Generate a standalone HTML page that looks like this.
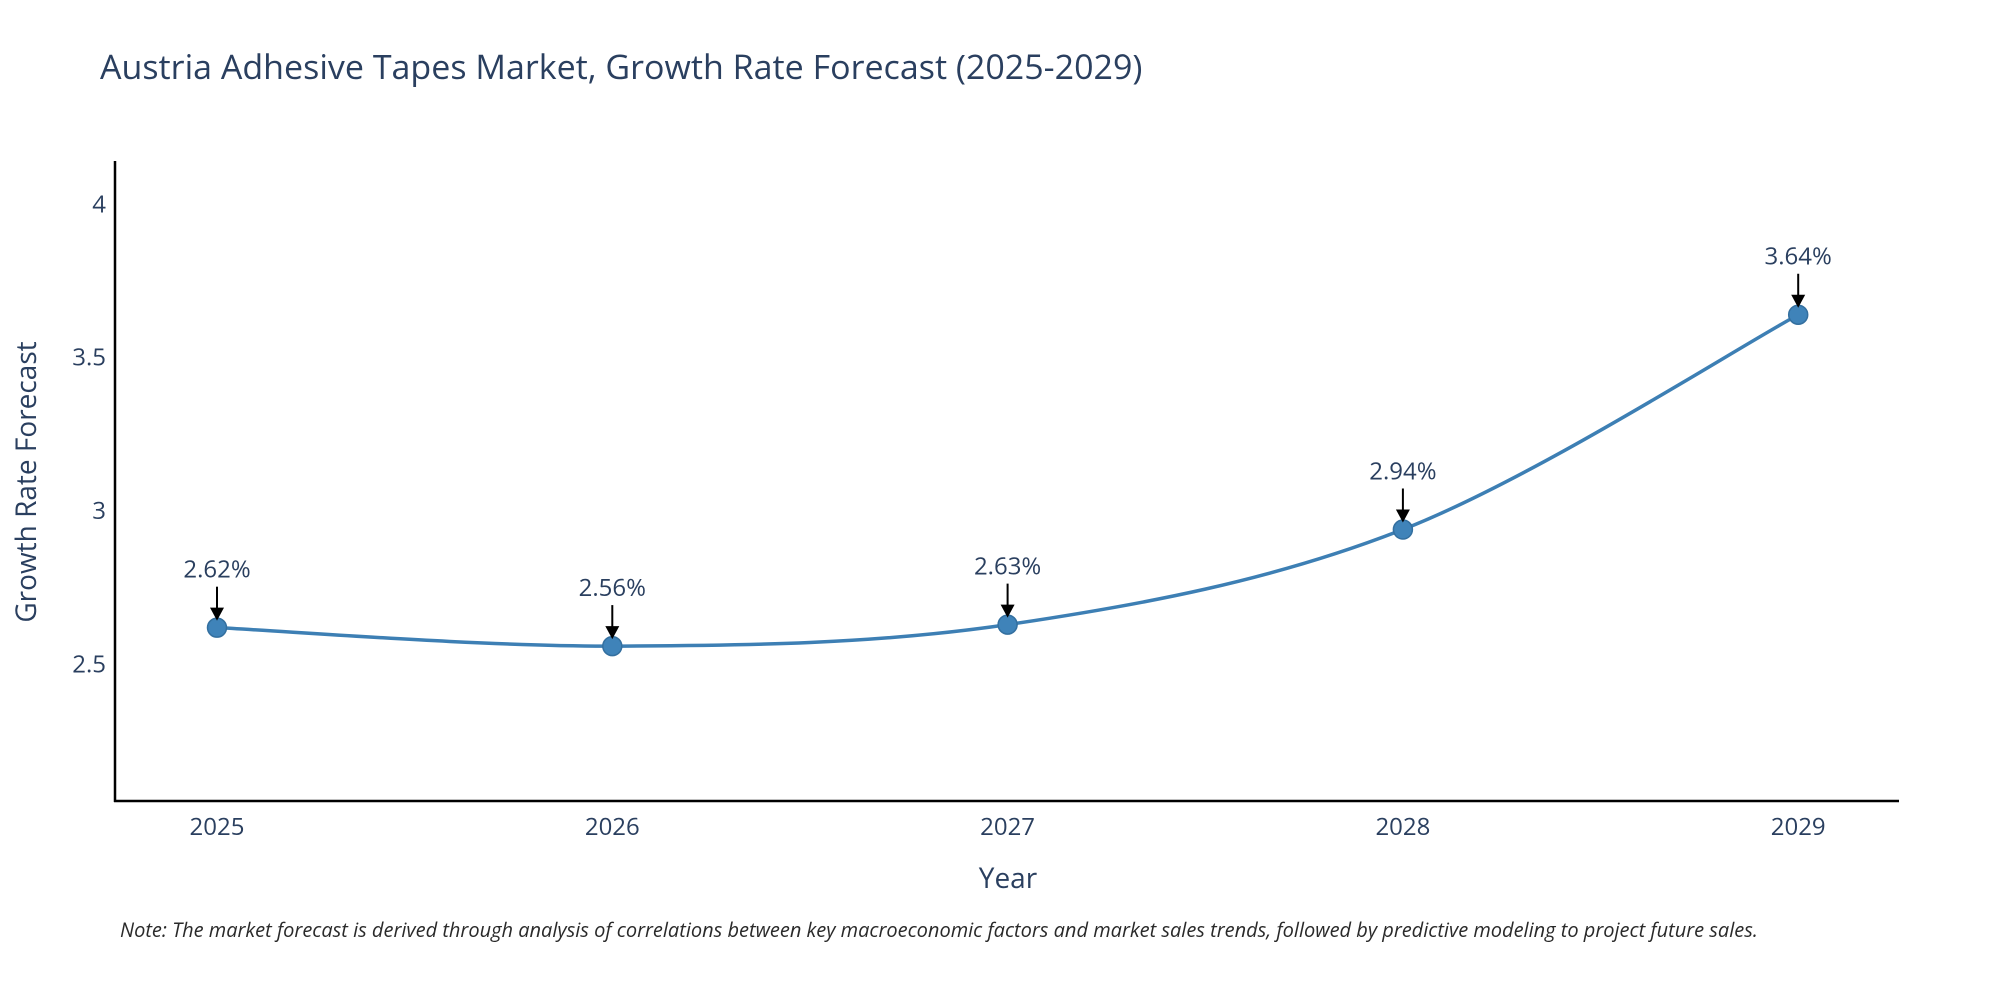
<!DOCTYPE html>
<html><head><meta charset="utf-8"><style>
body{margin:0;background:#fff;}
svg text{font-family:"Open Sans","Liberation Sans",sans-serif;}
</style></head><body>
<svg id="chart" width="2000" height="1000" viewBox="0 0 2000 1000" xmlns="http://www.w3.org/2000/svg">
<rect width="2000" height="1000" fill="#fff"/>
<text x="100" y="79" font-size="34" fill="#2a3f5f">Austria Adhesive Tapes Market, Growth Rate Forecast (2025-2029)</text>
<g id="yticks"></g>
<g id="xticks"></g>
<line x1="115" y1="161" x2="115" y2="802" stroke="#000" stroke-width="2.5"/>
<line x1="114" y1="801" x2="1899" y2="801" stroke="#000" stroke-width="2.5"/>
<path id="line" fill="none" stroke="#3d7fb4" stroke-width="3.5"/>
<g id="marks"></g>
<text x="1008" y="888" font-size="28" fill="#2a3f5f" text-anchor="middle">Year</text>
<text transform="translate(36,482) rotate(-90)" font-size="28" fill="#2a3f5f" text-anchor="middle">Growth Rate Forecast</text>
<text x="120" y="937" font-size="20" font-style="italic" fill="#2a2a2a">Note: The market forecast is derived through analysis of correlations between key macroeconomic factors and market sales trends, followed by predictive modeling to project future sales.</text>
</svg>
<script>
const years = [2025, 2026, 2027, 2028, 2029];
const values = [2.62, 2.56, 2.63, 2.94, 3.64];
const labels = ["2.62%", "2.56%", "2.63%", "2.94%", "3.64%"];
const yTicks = [2.5, 3, 3.5, 4];
const NS = "http://www.w3.org/2000/svg";
const X = v => 217 + (v - 2025) * 395.3;
const Y = v => 664.5 - (v - 2.5) * 306.8;
function mk(tag, attrs, parent, txt){const e=document.createElementNS(NS,tag);for(const k in attrs)e.setAttribute(k,attrs[k]);if(txt!==undefined)e.textContent=txt;parent.appendChild(e);return e;}
const yg=document.getElementById('yticks');
yTicks.forEach(t=>{const e=mk('text',{x:106,y:Y(t)+8,'font-size':24,fill:'#2a3f5f','text-anchor':'end'},yg,String(t));

});
const xg=document.getElementById('xticks');
years.forEach(t=>{const e=mk('text',{x:X(t),y:835,'font-size':24,fill:'#2a3f5f','text-anchor':'middle'},xg,String(t));

});
const pts=years.map((y,i)=>[X(y),Y(values[i])]);
let d=`M${pts[0][0]},${pts[0][1]}`;
for(let i=0;i<pts.length-1;i++){const p0=pts[i-1]||pts[i],p1=pts[i],p2=pts[i+1],p3=pts[i+2]||p2;
const c1=[p1[0]+(p2[0]-p0[0])/6,p1[1]+(p2[1]-p0[1])/6],c2=[p2[0]-(p3[0]-p1[0])/6,p2[1]-(p3[1]-p1[1])/6];
d+=` C${c1[0]},${c1[1]} ${c2[0]},${c2[1]} ${p2[0]},${p2[1]}`;}
document.getElementById('line').setAttribute('d',d);
const mg=document.getElementById('marks');
pts.forEach((p,i)=>{
const c=mk('circle',{cx:p[0],cy:p[1],r:9.5,fill:'#3f83b9',stroke:'#336f9f','stroke-width':1.5},mg);


const a=mk('line',{x1:p[0],y1:p[1]-41,x2:p[0],y2:p[1]-18,stroke:'#000','stroke-width':2},mg);


const h=mk('polygon',{points:`${p[0]-7},${p[1]-20} ${p[0]+7},${p[1]-20} ${p[0]},${p[1]-7}`,fill:'#000'},mg);


const t=mk('text',{x:p[0],y:p[1]-50,'font-size':24,fill:'#2a3f5f','text-anchor':'middle'},mg,labels[i]);


});
</script>
</body></html>
